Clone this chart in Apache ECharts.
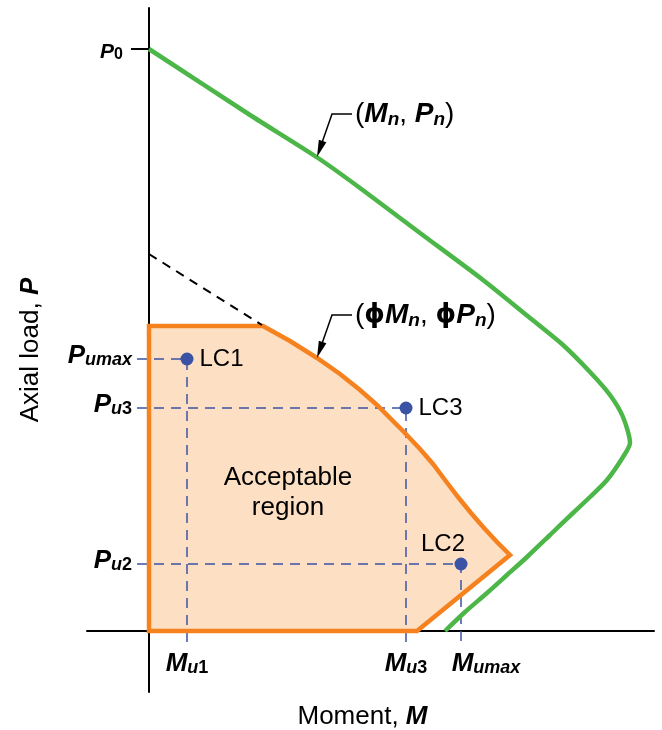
<!DOCTYPE html>
<html>
<head>
<meta charset="utf-8">
<script src="https://cdn.jsdelivr.net/npm/echarts@6/dist/echarts.min.js"></script>
<style>
html, body { margin: 0; padding: 0; background: #fff; }
#chart { width: 662px; height: 730px; }
</style>
</head>
<body>
<div id="chart"></div>
<script>
'use strict';

// nominal strength curve (Mn, Pn), moment / axial load
var nominalCurve = [[0, 582], [101, 516], [169, 473], [211, 443], [271, 398], [334, 351], [381, 313],
    [414, 286], [441, 259], [461, 236], [474, 214], [481, 188], [474, 174], [458, 151], [441, 134],
    [424, 118], [401, 96], [378, 74], [358, 56], [338, 38], [316, 19], [296, 0]];

// design strength (phi Mn, phi Pn) closing the acceptable region
var designRegion = [[0, 0], [0, 305], [114, 305], [141, 290], [168, 273], [191, 257], [211, 241],
    [228, 226], [243, 211], [255, 199], [271, 182], [284, 167], [296, 151], [309, 134], [322, 118],
    [335, 103], [348, 89], [361, 76], [268, 0]];

// dashed continuation above the cap
var phiExtension = [[0, 377], [113, 306]];

// load cases
var loadCases = ['LC1', 'LC2', 'LC3'];
var caseMoment = [38, 312, 257];
var caseAxial = [272, 67, 223];

// tick labels
var axialTicks = [582, 272, 223, 67];
var axialLabels = ['{p0|P}{n0|0}{gapR| }', '{p|P}{si|umax}', '{p|P}{si|u}{sn|3}', '{p|P}{si|u}{sn|2}'];
var momentTicks = [38, 257, 312];
var momentLabels = ['{p|M}{si|u}{sn|1}', '{p|M}{si|u}{sn|3}', '{gapL| }{p|M}{si|umax}'];

// leader arrows for the two curves
var leaders = [
    [[203, 517], [183, 517], [168, 474]],
    [[203, 316], [183, 316], [168, 273]]
];
var leaderText = [
    '{r|(}{b|M}{s|n}{r|, }{b|P}{s|n}{r|)}',
    '{r|(}{f|\u03d5}{b|M}{s|n}{r|, }{f|\u03d5}{b|P}{s|n}{r|)}'
];

var FONT = 'Liberation Sans';
var BLUE = '#3a53a4';
var X_MAX = 505;

var tickRich = {
    p: { fontSize: 26, fontWeight: 'bold', fontStyle: 'italic', lineHeight: 26, fontFamily: FONT, color: '#000' },
    p0: { fontSize: 21, fontWeight: 'bold', fontStyle: 'italic', lineHeight: 24, verticalAlign: 'bottom', fontFamily: FONT, color: '#000' },
    n0: { fontSize: 16, fontWeight: 'bold', lineHeight: 8, verticalAlign: 'bottom', fontFamily: FONT, color: '#000' },
    si: { fontSize: 18, fontWeight: 'bold', fontStyle: 'italic', lineHeight: 8, verticalAlign: 'bottom', fontFamily: FONT, color: '#000' },
    sn: { fontSize: 18, fontWeight: 'bold', lineHeight: 8, verticalAlign: 'bottom', fontFamily: FONT, color: '#000' },
    gapR: { width: 9, lineHeight: 34 },
    gapL: { width: 50 }
};

function regionItem(filled) {
    return function (params, api) {
        var pts = designRegion.map(function (p) { return api.coord(p); });
        return {
            type: 'polygon',
            shape: { points: pts },
            style: filled
                ? { fill: '#fddfc4', stroke: null }
                : { fill: null, stroke: '#f5821f', lineWidth: 4.5, lineJoin: 'miter' }
        };
    };
}

function leaderItem(params, api) {
    var pts = leaders[params.dataIndex].map(function (p) { return api.coord(p); });
    var a = pts[pts.length - 2], b = pts[pts.length - 1];
    var dx = b[0] - a[0], dy = b[1] - a[1];
    var len = Math.sqrt(dx * dx + dy * dy);
    var ux = dx / len, uy = dy / len;
    var hl = 17, hw = 4;
    var base = [b[0] - ux * hl, b[1] - uy * hl];
    var head = [b, [base[0] - uy * hw, base[1] + ux * hw], [base[0] + uy * hw, base[1] - ux * hw]];
    var line = pts.slice(0, -1).concat([[base[0] + ux * 3, base[1] + uy * 3]]);
    return {
        type: 'group',
        children: [
            { type: 'polyline', shape: { points: line }, style: { stroke: '#000', lineWidth: 1.5, fill: null } },
            { type: 'polygon', shape: { points: head }, style: { fill: '#000' } }
        ]
    };
}

var guideSeries = loadCases.map(function (name, i) {
    return {
        type: 'line',
        name: name + ' guide',
        z: 3,
        symbol: 'none',
        silent: true,
        lineStyle: { color: BLUE, width: 1.5, type: [10, 7] },
        data: [[-12, caseAxial[i]], [caseMoment[i], caseAxial[i]], [caseMoment[i], -12]]
    };
});

var myChart = echarts.init(document.getElementById('chart'), null, { renderer: 'canvas' });

var option = {
    animation: false,
    backgroundColor: '#fff',
    textStyle: { fontFamily: FONT },
    grid: { left: 87, right: 8, top: 8, bottom: 38, containLabel: false, outerBoundsMode: 'none' },
    xAxis: {
        type: 'value',
        min: -62,
        max: X_MAX,
        splitLine: { show: false },
        axisTick: { show: false },
        axisLine: { onZero: true, lineStyle: { color: '#000', width: 2 } },
        axisLabel: {
            // blank label at the axis end keeps Mu3 and Mumax from being treated as an overlapping end pair
            customValues: momentTicks.concat([X_MAX]),
            margin: -41,
            hideOverlap: false,
            formatter: function (v) {
                var i = momentTicks.indexOf(v);
                return i < 0 ? ' ' : momentLabels[i];
            },
            rich: tickRich
        },
        name: 'Moment, {b|M}',
        nameLocation: 'middle',
        nameGap: 12,
        nameMoveOverlap: false,
        nameTextStyle: {
            fontSize: 26, color: '#000', fontFamily: FONT, padding: [0, 16, 0, 0],
            rich: { b: { fontSize: 26, fontWeight: 'bold', fontStyle: 'italic', fontFamily: FONT, color: '#000' } }
        }
    },
    yAxis: {
        type: 'value',
        min: -61,
        max: 623,
        splitLine: { show: false },
        axisTick: { show: true, customValues: [582], length: 18, lineStyle: { color: '#000', width: 2 } },
        axisLine: { onZero: true, lineStyle: { color: '#000', width: 2 } },
        axisLabel: {
            customValues: axialTicks,
            margin: -45,
            hideOverlap: false,
            showMinLabel: true,
            showMaxLabel: true,
            padding: [0, 0, 6, 0],
            formatter: function (v) { return axialLabels[axialTicks.indexOf(v)]; },
            rich: tickRich
        },
        name: 'Axial load, {b|P}',
        nameLocation: 'middle',
        nameGap: 43,
        nameMoveOverlap: false,
        nameTextStyle: {
            fontSize: 26, color: '#000', fontFamily: FONT,
            rich: { b: { fontSize: 26, fontWeight: 'bold', fontStyle: 'italic', fontFamily: FONT, color: '#000' } }
        }
    },
    series: [
        {
            type: 'custom',
            name: 'region fill',
            z: 1,
            silent: true,
            clip: false,
            renderItem: regionItem(true),
            data: [[0, 0]]
        }
    ].concat(guideSeries).concat([
        {
            type: 'custom',
            name: 'design strength',
            z: 4,
            silent: true,
            clip: false,
            renderItem: regionItem(false),
            data: [[0, 0]]
        },
        {
            type: 'line',
            name: 'phi extension',
            z: 4,
            symbol: 'none',
            lineStyle: { color: '#000', width: 2, type: [9, 7] },
            data: phiExtension
        },
        {
            type: 'line',
            name: 'nominal strength',
            z: 5,
            symbol: 'none',
            smooth: 0.25,
            lineStyle: { color: '#4cb748', width: 4.5 },
            data: nominalCurve
        },
        {
            type: 'custom',
            name: 'leaders',
            z: 6,
            silent: true,
            clip: false,
            renderItem: leaderItem,
            data: leaders.map(function (l) { return l[0]; })
        },
        {
            type: 'scatter',
            name: 'leader text',
            z: 6,
            symbolSize: 0,
            silent: true,
            itemStyle: { color: 'rgba(0,0,0,0)', opacity: 1 },
            data: leaders.map(function (l) { return l[0]; }),
            label: {
                show: true,
                position: 'right',
                distance: 3,
                formatter: function (p) { return leaderText[p.dataIndex]; },
                rich: {
                    r: { fontSize: 28, fontFamily: FONT, color: '#000', lineHeight: 30 },
                    b: { fontSize: 28, fontWeight: 'bold', fontStyle: 'italic', fontFamily: FONT, color: '#000', lineHeight: 30 },
                    f: { fontSize: 26, fontWeight: 'bold', fontFamily: 'DejaVu Sans', color: '#000', lineHeight: 30 },
                    s: { fontSize: 19, fontWeight: 'bold', fontStyle: 'italic', fontFamily: FONT, color: '#000', lineHeight: 12, verticalAlign: 'bottom' }
                }
            }
        },
        {
            type: 'scatter',
            name: 'region text',
            z: 6,
            symbolSize: 0,
            silent: true,
            itemStyle: { color: 'rgba(0,0,0,0)', opacity: 1 },
            data: [[139, 138]],
            label: {
                show: true,
                position: 'inside',
                formatter: '{t|Acceptable}\n{t|region}',
                textBorderWidth: 0,
                rich: {
                    t: { fontSize: 26, lineHeight: 30, color: '#000', fontFamily: FONT, textBorderWidth: 0 }
                }
            }
        },
        {
            type: 'scatter',
            name: 'load cases',
            z: 7,
            symbolSize: 13,
            itemStyle: { color: BLUE, opacity: 1 },
            data: loadCases.map(function (name, i) {
                var item = { name: name, value: [caseMoment[i], caseAxial[i]] };
                if (name === 'LC2') {
                    item.label = { position: 'top', offset: [-18, 0], distance: 1 };
                }
                return item;
            }),
            label: {
                show: true,
                position: 'right',
                distance: 6,
                formatter: '{b}',
                fontSize: 24,
                color: '#000',
                fontFamily: FONT
            }
        }
    ])
};

myChart.setOption(option);
</script>
</body>
</html>
